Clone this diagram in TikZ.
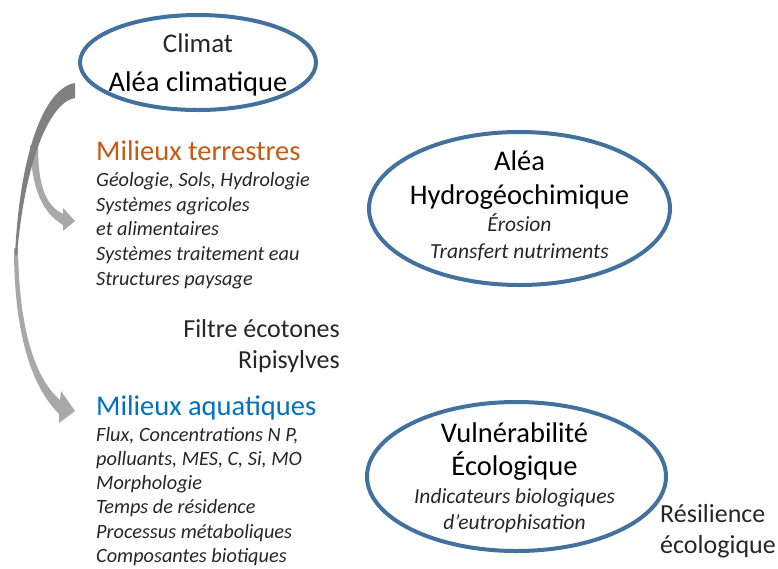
\documentclass[tikz,border=0pt]{standalone}
\usepackage{fontspec}
\setmainfont{Carlito}
\usepackage{tikz}
\usetikzlibrary{shapes.geometric, positioning}
\usepackage{xcolor}
\definecolor{ringblue}{RGB}{65,113,156}
\definecolor{terrorange}{RGB}{197,90,17}
\definecolor{aquablue}{RGB}{0,112,192}
\definecolor{arrowdark}{RGB}{128,128,128}
\definecolor{arrowlight}{RGB}{168,168,168}
\tikzstyle{ring} = [ellipse, draw=ringblue, line width=4pt, inner sep=0pt]
\tikzstyle{ringtext} = [align=center, inner sep=0pt, text=black]
\tikzstyle{heading} = [anchor=base west, inner sep=0pt, font=\fontsize{28.5}{34}\selectfont]
\tikzstyle{itemlist} = [anchor=north west, inner sep=0pt, align=left, font=\fontsize{20.3}{24.8}\selectfont\itshape, text=black!85]
\tikzstyle{note} = [inner sep=0pt, font=\fontsize{26}{31}\selectfont, text=black!85]

\begin{document}
\begin{tikzpicture}[x=1pt, y=-1pt]
    \useasboundingbox (0,0) rectangle (778,568);

    % ellipses
    \node (clim) [ring, minimum width=236pt, minimum height=95pt] at (198,62.5) {};
    \node (hydro) [ring, minimum width=301pt, minimum height=153pt] at (519.5,208.5) {};
    \node (vuln) [ring, minimum width=299pt, minimum height=149pt] at (516.5,476.5) {};

    \node (climtext) [ringtext, font=\fontsize{28.5}{39}\selectfont, yshift=-2.5pt] at (clim.center) {{\fontsize{27}{39}\selectfont\color{black!85}Climat}\\Aléa climatique};
    \node (hydrotext) [ringtext, font=\fontsize{28.5}{34}\selectfont, yshift=3pt] at (hydro.center) {Aléa\\Hydrogéochimique\\[-7pt]{\itshape\fontsize{21.5}{24}\selectfont\color{black!85}Érosion}\\[-7pt]{\itshape\fontsize{21.5}{24}\selectfont\color{black!85}Transfert nutriments}};
    \node (vulntext) [ringtext, font=\fontsize{28.5}{33}\selectfont, xshift=-2pt, yshift=-1pt] at (vuln.center) {Vulnérabilité\\Écologique\\[-5pt]{\itshape\fontsize{21.5}{24}\selectfont\color{black!85}Indicateurs biologiques}\\[-7pt]{\itshape\fontsize{21.5}{24}\selectfont\color{black!85}d’eutrophisation}};

    % left column
    \node (terhead) [heading, text=terrorange] at (96,160) {Milieux terrestres};
    \node (terlist) [itemlist, below=12pt of terhead.base west, anchor=north west] {Géologie, Sols, Hydrologie\\Systèmes agricoles\\et alimentaires\\Systèmes traitement eau\\Structures paysage};
    \node (filtre) [note, anchor=north east, align=right] at (340,319) {Filtre écotones\\Ripisylves};
    \node (aqhead) [heading, text=aquablue] at (96,415) {Milieux aquatiques};
    \node (aqlist) [itemlist, font=\fontsize{20.3}{24.2}\selectfont\itshape, below=12pt of aqhead.base west, anchor=north west] {Flux, Concentrations N P,\\polluants, MES, C, Si, MO\\Morphologie\\Temps de résidence\\Processus métaboliques\\Composantes biotiques};
    \node (resil) [note, anchor=north west, align=left] at (660,504) {Résilience\\écologique};

    % curved block arrows
    \fill[arrowlight] (30,145) .. controls (32,190) and (42,212) .. (63,225) -- (63,231) -- (75,221) -- (63,208) -- (63,214) .. controls (45,205) and (38,185) .. (38,145) -- cycle;
    \fill[arrowlight] (14,248) .. controls (14,330) and (30,385) .. (59,414) -- (59,423) -- (75,411) -- (61,391) -- (60,400) .. controls (35,378) and (19,330) .. (18,248) -- cycle;
    \fill[arrowdark] (75,83) .. controls (45,88) and (20,150) .. (15,255) -- (17,255) .. controls (25,160) and (50,102) .. (75,98) -- cycle;
\end{tikzpicture}
\end{document}
